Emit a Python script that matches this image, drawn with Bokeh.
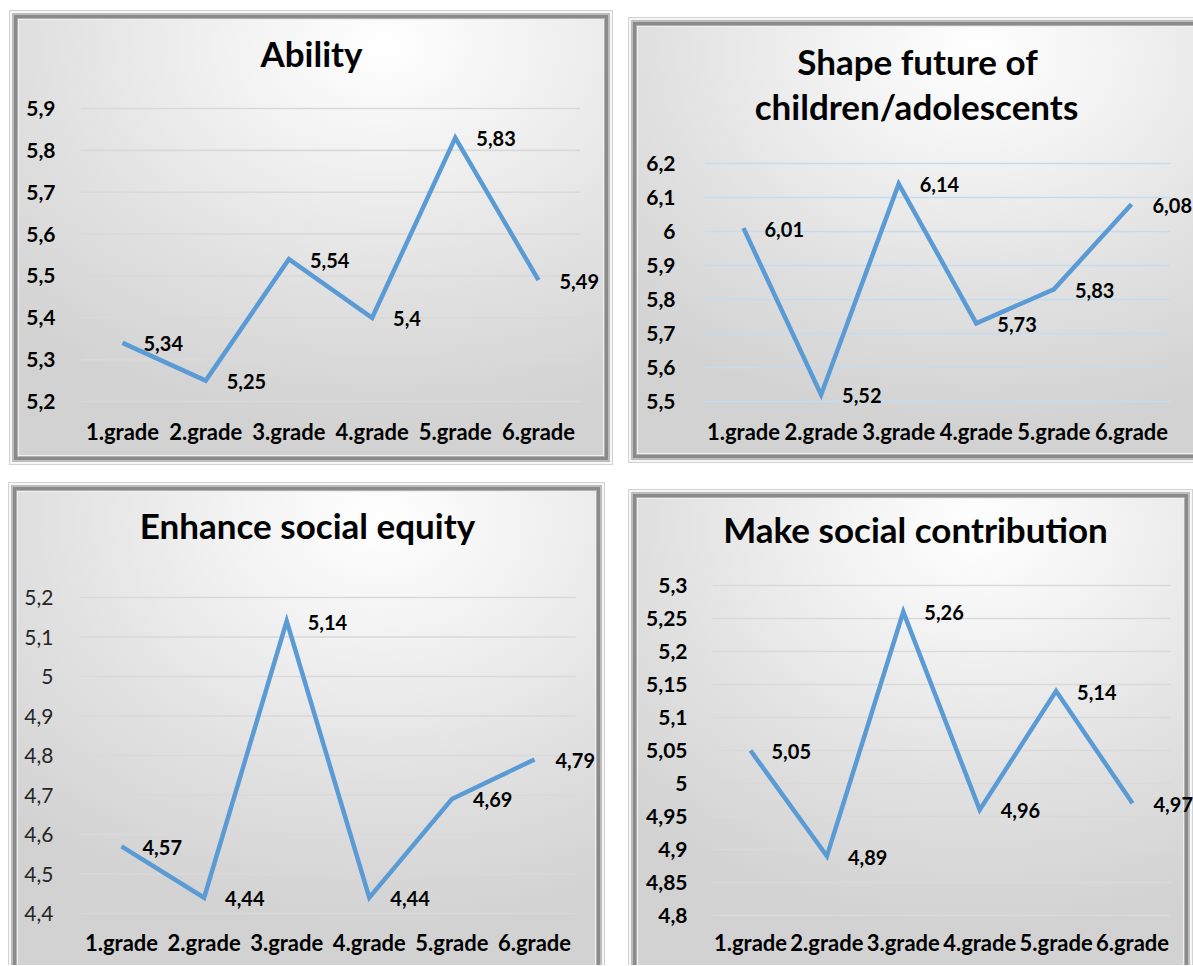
from bokeh.plotting import figure
from bokeh.models import Range1d, FixedTicker, ColumnDataSource, LabelSet, Label
from bokeh.core.properties import value
from bokeh.embed import file_html
from bokeh.resources import INLINE

grades = ["1.grade", "2.grade", "3.grade", "4.grade", "5.grade", "6.grade"]

ability_values = [5.34, 5.25, 5.54, 5.40, 5.83, 5.49]
ability_labels = ["5,34", "5,25", "5,54", "5,4", "5,83", "5,49"]
ability_ticks = [5.2, 5.3, 5.4, 5.5, 5.6, 5.7, 5.8, 5.9]
ability_tick_labels = ["5,2", "5,3", "5,4", "5,5", "5,6", "5,7", "5,8", "5,9"]

shape_values = [6.01, 5.52, 6.14, 5.73, 5.83, 6.08]
shape_labels = ["6,01", "5,52", "6,14", "5,73", "5,83", "6,08"]
shape_ticks = [5.5, 5.6, 5.7, 5.8, 5.9, 6.0, 6.1, 6.2]
shape_tick_labels = ["5,5", "5,6", "5,7", "5,8", "5,9", "6", "6,1", "6,2"]

equity_values = [4.57, 4.44, 5.14, 4.44, 4.69, 4.79]
equity_labels = ["4,57", "4,44", "5,14", "4,44", "4,69", "4,79"]
equity_ticks = [4.4, 4.5, 4.6, 4.7, 4.8, 4.9, 5.0, 5.1, 5.2]
equity_tick_labels = ["4,4", "4,5", "4,6", "4,7", "4,8", "4,9", "5", "5,1", "5,2"]

contrib_values = [5.05, 4.89, 5.26, 4.96, 5.14, 4.97]
contrib_labels = ["5,05", "4,89", "5,26", "4,96", "5,14", "4,97"]
contrib_ticks = [4.8, 4.85, 4.9, 4.95, 5.0, 5.05, 5.1, 5.15, 5.2, 5.25, 5.3]
contrib_tick_labels = ["4,8", "4,85", "4,9", "4,95", "5", "5,05", "5,1", "5,15", "5,2", "5,25", "5,3"]

FONT = "Lato"
LINE_COLOR = "#5B9BD5"
BEVEL = [(1, "#d2d2d2"), (3, "#f6f6f6"), (5, "#bdbdbd"), (8, "#8a8a8a"), (9, "#b0b0b0"), (10, "#efefef")]


def bevel_css(sides):
    parts = []
    for w, c in BEVEL:
        if "l" in sides:
            parts.append(f"inset {w}px 0 0 0 {c}")
        if "r" in sides:
            parts.append(f"inset -{w}px 0 0 0 {c}")
        if "t" in sides:
            parts.append(f"inset 0 {w}px 0 0 {c}")
        if "b" in sides:
            parts.append(f"inset 0 -{w}px 0 0 {c}")
    return ", ".join(parts)


def lin(va, pa, vb, pb, p):
    return va + (p - pa) * (vb - va) / (pb - pa)


def panel(titles, values, labels, ticks, tick_labels, box, frame, cat_px, tick_px,
          title_pos, ylab_standoff, xlab_standoff, grid_color, ytick_bold=True, sides="lrtb"):
    fx, fy, fw, fh = box                     # figure box on the page
    fl, fr, fb = frame                       # frame left / right / bottom on the page
    c0, c5 = cat_px                          # pixel centre of first / last category
    t_top, t_bot = tick_px                   # pixel of top / bottom tick
    n = len(grades) - 1
    xr = Range1d(lin(0, c0, n, c5, fl), lin(0, c0, n, c5, fr))
    yr = Range1d(lin(ticks[-1], t_top, ticks[0], t_bot, fb), lin(ticks[-1], t_top, ticks[0], t_bot, fy))
    p = figure(width=fw, height=fh, x_range=xr, y_range=yr,
               output_backend="svg", toolbar_location=None,
               min_border=0,
               min_border_left=fl - fx, min_border_right=fx + fw - fr,
               min_border_top=0, min_border_bottom=fy + fh - fb,
               styles={
                   "position": "absolute", "left": f"{fx}px", "top": f"{fy}px",
                   "background": "radial-gradient(ellipse 90% 85% at 62% 8%, #ffffff 0%, #f1f1f1 30%, #e0e0e0 65%, #d2d2d2 100%)",
                   "box-shadow": bevel_css(sides),
               })
    p.title = None
    p.border_fill_color = None
    p.background_fill_color = None
    p.outline_line_color = None
    p.xgrid.grid_line_color = None
    p.ygrid.grid_line_color = None

    x_idx = list(range(len(grades)))
    p.xaxis.ticker = FixedTicker(ticks=x_idx)
    p.xaxis.major_label_overrides = {i: g for i, g in zip(x_idx, grades)}
    p.yaxis.ticker = FixedTicker(ticks=ticks)
    p.yaxis.major_label_overrides = {t: l for t, l in zip(ticks, tick_labels)}
    for ax in (p.xaxis[0], p.yaxis[0]):
        ax.axis_line_color = None
        ax.major_tick_line_color = None
        ax.minor_tick_line_color = None
        ax.major_label_text_font = FONT
        ax.major_label_text_color = "#000000"
        ax.major_label_text_font_style = "bold"
    p.xaxis.major_label_text_font_size = "22px"
    p.yaxis.major_label_text_font_size = "21px"
    if not ytick_bold:
        p.yaxis.major_label_text_font_style = "normal"
        p.yaxis.major_label_text_color = "#262626"
    p.yaxis.major_label_standoff = ylab_standoff
    p.xaxis.major_label_standoff = xlab_standoff

    # horizontal grid lines at the tick values, across the category band
    p.segment(x0=[-0.5] * len(ticks), x1=[n + 0.5] * len(ticks), y0=ticks, y1=ticks,
              line_color=grid_color, line_width=1.6)

    src = ColumnDataSource(dict(x=x_idx, y=values, lab=labels))
    p.line("x", "y", source=src, line_color=LINE_COLOR, line_width=4.5, line_join="miter")
    ls = LabelSet(x="x", y="y", text="lab", source=src, x_offset=21, y_offset=-1,
                  text_font=value(FONT), text_font_size="20px", text_font_style="bold",
                  text_color="#000000", text_align="left", text_baseline="middle")
    p.add_layout(ls)

    for t, (cx, cy) in zip(titles, title_pos):
        p.add_layout(Label(x=cx - fl, y=fb - cy, x_units="screen", y_units="screen", text=t,
                           text_font=FONT, text_font_size="35px", text_font_style="bold",
                           text_color="#000000", text_align="center", text_baseline="middle"))
    return p


p1 = panel(["Ability"], ability_values, ability_labels, ability_ticks, ability_tick_labels,
           box=(9, 10, 604, 455), frame=(80, 609, 410), cat_px=(122, 538), tick_px=(108, 401),
           title_pos=[(311, 52)], ylab_standoff=19, xlab_standoff=1, grid_color="#d9d9d9")
p2 = panel(["Shape future of", "children/adolescents"], shape_values, shape_labels,
           shape_ticks, shape_tick_labels,
           box=(628, 17, 565, 446), frame=(704, 1193, 410), cat_px=(743, 1131), tick_px=(163, 401),
           title_pos=[(917, 60), (916, 105)], ylab_standoff=23, xlab_standoff=1, grid_color="#c5dcf0",
           sides="ltb")
p3 = panel(["Enhance social equity"], equity_values, equity_labels, equity_ticks, equity_tick_labels,
           box=(8, 482, 597, 483), frame=(80, 601, 920), cat_px=(121, 534), tick_px=(597, 913),
           title_pos=[(307, 524)], ylab_standoff=21, xlab_standoff=2, grid_color="#d9d9d9",
           ytick_bold=False, sides="ltr")
p4 = panel(["Make social contribution"], contrib_values, contrib_labels, contrib_ticks, contrib_tick_labels,
           box=(628, 489, 565, 476), frame=(712, 1193, 922), cat_px=(750, 1132), tick_px=(585, 915),
           title_pos=[(915, 528)], ylab_standoff=19, xlab_standoff=0, grid_color="#d9d9d9",
           sides="ltr")

open("out.html", "w").write(file_html([p1, p2, p3, p4], INLINE))
